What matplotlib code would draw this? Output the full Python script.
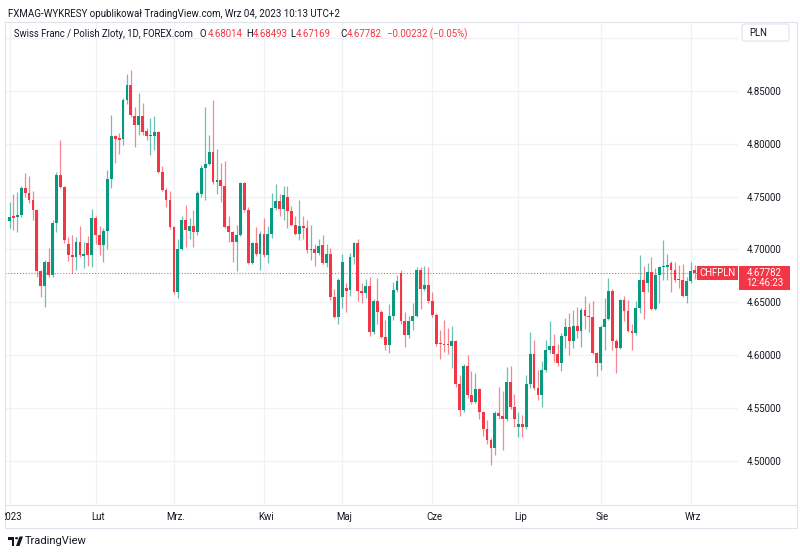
import numpy as np
import pandas as pd
import matplotlib
matplotlib.use("Agg")
import matplotlib.pyplot as plt
from matplotlib.patches import Rectangle, FancyBboxPatch, Circle, Polygon
from matplotlib.transforms import Bbox, TransformedBbox, blended_transform_factory

plt.rcParams['font.family'] = ['Roboto', 'DejaVu Sans']

# daily bars, CHF/PLN, Jan 2 - Sep 4 2023
dates = pd.bdate_range('2023-01-02', '2023-09-04')

opens = [4.727, 4.732, 4.731, 4.733, 4.758, 4.753, 4.747, 4.737, 4.680, 4.665,
         4.688, 4.676, 4.725, 4.770, 4.759, 4.705, 4.695, 4.693, 4.707, 4.694,
         4.706, 4.695, 4.730, 4.714, 4.704, 4.717, 4.767, 4.807, 4.805, 4.804,
         4.841, 4.855, 4.826, 4.818, 4.826, 4.812, 4.807, 4.807, 4.811, 4.773,
         4.756, 4.747, 4.721, 4.660, 4.700, 4.728, 4.717, 4.722, 4.716, 4.752,
         4.777, 4.781, 4.792, 4.764, 4.766, 4.760, 4.722, 4.716, 4.707, 4.714,
         4.763, 4.737, 4.687, 4.706, 4.696, 4.715, 4.695, 4.715, 4.739, 4.746,
         4.738, 4.750, 4.736, 4.723, 4.715, 4.722, 4.720, 4.699, 4.700, 4.697,
         4.704, 4.687, 4.696, 4.655, 4.636, 4.655, 4.664, 4.662, 4.693, 4.706,
         4.661, 4.659, 4.665, 4.622, 4.651, 4.641, 4.617, 4.610, 4.637, 4.662,
         4.678, 4.632, 4.619, 4.632, 4.637, 4.681, 4.663, 4.666, 4.651, 4.638,
         4.612, 4.611, 4.611, 4.609, 4.613, 4.573, 4.548, 4.590, 4.562, 4.556,
         4.568, 4.546, 4.530, 4.520, 4.512, 4.545, 4.543, 4.540, 4.575, 4.551,
         4.532, 4.535, 4.532, 4.573, 4.601, 4.569, 4.562, 4.586, 4.605, 4.609,
         4.601, 4.593, 4.618, 4.627, 4.613, 4.628, 4.623, 4.643, 4.637, 4.636,
         4.602, 4.593, 4.627, 4.634, 4.661, 4.613, 4.607, 4.652, 4.642, 4.623,
         4.621, 4.645, 4.671, 4.668, 4.679, 4.644, 4.676, 4.683, 4.683, 4.687,
         4.681, 4.672, 4.671, 4.656, 4.670, 4.68014]

highs = [4.745, 4.752, 4.754, 4.760, 4.772, 4.769, 4.755, 4.738, 4.681, 4.690,
         4.701, 4.728, 4.773, 4.803, 4.760, 4.712, 4.714, 4.712, 4.722, 4.707,
         4.713, 4.738, 4.732, 4.722, 4.720, 4.775, 4.827, 4.808, 4.810, 4.843,
         4.866, 4.870, 4.835, 4.848, 4.838, 4.815, 4.824, 4.826, 4.812, 4.779,
         4.758, 4.755, 4.722, 4.710, 4.732, 4.742, 4.730, 4.737, 4.755, 4.780,
         4.835, 4.808, 4.841, 4.795, 4.782, 4.784, 4.732, 4.717, 4.723, 4.764,
         4.764, 4.740, 4.707, 4.721, 4.717, 4.730, 4.722, 4.753, 4.762, 4.752,
         4.760, 4.760, 4.741, 4.732, 4.747, 4.732, 4.728, 4.723, 4.705, 4.710,
         4.714, 4.705, 4.701, 4.663, 4.673, 4.696, 4.668, 4.697, 4.707, 4.710,
         4.668, 4.672, 4.674, 4.653, 4.673, 4.643, 4.633, 4.648, 4.669, 4.676,
         4.681, 4.641, 4.637, 4.649, 4.683, 4.683, 4.684, 4.683, 4.660, 4.640,
         4.624, 4.633, 4.626, 4.628, 4.614, 4.581, 4.592, 4.600, 4.585, 4.583,
         4.569, 4.547, 4.539, 4.522, 4.547, 4.570, 4.566, 4.589, 4.590, 4.563,
         4.546, 4.544, 4.581, 4.622, 4.614, 4.586, 4.595, 4.614, 4.632, 4.620,
         4.611, 4.621, 4.635, 4.640, 4.643, 4.646, 4.645, 4.656, 4.649, 4.651,
         4.603, 4.629, 4.654, 4.673, 4.663, 4.615, 4.653, 4.656, 4.652, 4.630,
         4.651, 4.695, 4.684, 4.687, 4.693, 4.682, 4.684, 4.709, 4.696, 4.689,
         4.688, 4.685, 4.686, 4.674, 4.688, 4.68493]

lows = [4.720, 4.718, 4.716, 4.731, 4.750, 4.744, 4.728, 4.674, 4.655, 4.646,
        4.674, 4.674, 4.716, 4.758, 4.706, 4.689, 4.678, 4.681, 4.693, 4.682,
        4.684, 4.683, 4.705, 4.695, 4.688, 4.700, 4.758, 4.782, 4.790, 4.799,
        4.837, 4.825, 4.797, 4.808, 4.808, 4.803, 4.789, 4.794, 4.772, 4.755,
        4.740, 4.719, 4.658, 4.654, 4.699, 4.702, 4.710, 4.702, 4.714, 4.750,
        4.747, 4.780, 4.762, 4.752, 4.745, 4.720, 4.707, 4.688, 4.680, 4.713,
        4.735, 4.686, 4.686, 4.694, 4.681, 4.693, 4.687, 4.711, 4.737, 4.732,
        4.728, 4.720, 4.722, 4.714, 4.709, 4.710, 4.697, 4.690, 4.684, 4.695,
        4.686, 4.683, 4.652, 4.635, 4.630, 4.645, 4.641, 4.656, 4.686, 4.651,
        4.649, 4.654, 4.618, 4.620, 4.630, 4.616, 4.605, 4.602, 4.633, 4.660,
        4.630, 4.608, 4.616, 4.624, 4.636, 4.644, 4.661, 4.649, 4.636, 4.609,
        4.596, 4.603, 4.601, 4.588, 4.570, 4.543, 4.546, 4.560, 4.554, 4.555,
        4.540, 4.524, 4.516, 4.496, 4.506, 4.540, 4.510, 4.538, 4.549, 4.532,
        4.523, 4.523, 4.530, 4.569, 4.567, 4.558, 4.551, 4.584, 4.602, 4.594,
        4.590, 4.585, 4.607, 4.600, 4.607, 4.616, 4.608, 4.625, 4.622, 4.601,
        4.580, 4.586, 4.605, 4.633, 4.605, 4.583, 4.606, 4.632, 4.622, 4.605,
        4.619, 4.640, 4.634, 4.660, 4.643, 4.643, 4.649, 4.671, 4.671, 4.660,
        4.669, 4.664, 4.655, 4.649, 4.668, 4.67169]

closes = [4.731, 4.730, 4.733, 4.758, 4.753, 4.747, 4.737, 4.680, 4.665, 4.688,
          4.676, 4.725, 4.770, 4.759, 4.709, 4.695, 4.693, 4.707, 4.695, 4.696,
          4.695, 4.730, 4.714, 4.704, 4.717, 4.767, 4.807, 4.804, 4.803, 4.841,
          4.855, 4.827, 4.818, 4.826, 4.811, 4.807, 4.808, 4.811, 4.773, 4.756,
          4.747, 4.721, 4.660, 4.700, 4.728, 4.718, 4.722, 4.716, 4.753, 4.777,
          4.781, 4.792, 4.764, 4.766, 4.760, 4.721, 4.716, 4.707, 4.714, 4.763,
          4.737, 4.687, 4.706, 4.696, 4.715, 4.695, 4.715, 4.739, 4.746, 4.738,
          4.751, 4.736, 4.723, 4.715, 4.722, 4.720, 4.699, 4.700, 4.697, 4.703,
          4.687, 4.696, 4.655, 4.636, 4.671, 4.688, 4.661, 4.693, 4.706, 4.661,
          4.659, 4.665, 4.622, 4.651, 4.641, 4.617, 4.610, 4.637, 4.662, 4.670,
          4.632, 4.619, 4.632, 4.637, 4.681, 4.663, 4.666, 4.651, 4.638, 4.611,
          4.611, 4.610, 4.610, 4.613, 4.573, 4.548, 4.590, 4.562, 4.556, 4.568,
          4.546, 4.530, 4.520, 4.512, 4.545, 4.543, 4.540, 4.575, 4.551, 4.540,
          4.535, 4.532, 4.573, 4.601, 4.569, 4.562, 4.586, 4.605, 4.609, 4.601,
          4.593, 4.618, 4.627, 4.613, 4.628, 4.623, 4.643, 4.637, 4.636, 4.602,
          4.593, 4.627, 4.634, 4.661, 4.613, 4.607, 4.652, 4.642, 4.623, 4.621,
          4.645, 4.671, 4.660, 4.679, 4.644, 4.676, 4.683, 4.684, 4.685, 4.681,
          4.671, 4.671, 4.656, 4.670, 4.680, 4.67782]

month_labels = ['2023', 'Lut', 'Mrz.', 'Kwi', 'Maj', 'Cze', 'Lip', 'Sie', 'Wrz']
price_ticks = [4.50, 4.55, 4.60, 4.65, 4.70, 4.75, 4.80, 4.85, 4.90]
last_price = 4.67782

GREEN = '#089981'
RED = '#f23645'
TEXT = '#131722'
GRID = '#eff1f5'
BORDER = '#e0e3eb'

W, H = 800, 553


def fx(x):
    return x / W


def fy(y):
    return 1 - y / H


fig = plt.figure(figsize=(W / 100, H / 100), dpi=100)
fig.patch.set_facecolor('white')

ax = fig.add_axes([fx(5), fy(505), fx(738) - fx(5), fy(22) - fy(505)])
ax.set_xlim(-1.15, 186.1)
ax.set_ylim(4.4585, 4.9149)
for s in ax.spines.values():
    s.set_visible(False)

o = np.array(opens)
h = np.array(highs)
l = np.array(lows)
c = np.array(closes)
x = np.arange(len(c))
colors = np.where(c >= o, GREEN, RED)

# grid at month starts and every 0.05 (top level label sits under the PLN box)
month_idx = [int(np.where(dates.month == m)[0][0]) for m in range(1, 10)]
ax.set_xticks(month_idx)
ax.set_xticklabels([])
ax.set_yticks(price_ticks)
ax.set_yticklabels([f'{p:.5f}' if p < 4.88 else '' for p in price_ticks])
ax.yaxis.tick_right()
ax.tick_params(axis='both', length=0)
ax.tick_params(axis='y', pad=6, labelsize=6.9, labelcolor=TEXT)
ax.grid(True, color=GRID, linewidth=0.9)
ax.set_axisbelow(True)

# candles
ax.vlines(x, l, h, colors=colors, linewidth=0.9, alpha=0.6, zorder=2)
body_h = np.maximum(np.abs(c - o), 0.0009)
ax.bar(x, body_h, bottom=np.minimum(o, c), width=0.72, color=colors,
       linewidth=0, zorder=3)

ax.axhline(last_price, color=RED, linewidth=0.8, linestyle=(0, (1, 1.6)),
           alpha=0.8, zorder=1)

# month labels on the time axis, clipped at the left border
tr = blended_transform_factory(ax.transData, fig.transFigure)
clip = TransformedBbox(Bbox([[fx(5), 0], [1, 1]]), fig.transFigure)
for i, lab in zip(month_idx, month_labels):
    t = fig.text(i + 0.5, fy(517), lab, transform=tr, ha='center', va='center',
                 fontsize=6.9, color=TEXT)
    t.set_clip_box(clip)
    t.set_clip_on(True)

# widget frame
fig.add_artist(Rectangle((fx(5), fy(528)), fx(797) - fx(5), fy(22) - fy(528),
                         transform=fig.transFigure, fill=False,
                         edgecolor=BORDER, linewidth=0.8))
fig.add_artist(plt.Line2D([fx(5), fx(797)], [fy(505), fy(505)],
                          transform=fig.transFigure, color=BORDER, linewidth=0.8))

# header
fig.text(fx(7.5), fy(14), 'FXMAG-WYKRESY opublikował TradingView.com, Wrz 04, 2023 10:13 UTC+2',
         fontsize=7.0, color=TEXT, va='center')
fig.text(fx(14), fy(34), 'Swiss Franc / Polish Zloty, 1D, FOREX.com',
         fontsize=6.85, color=TEXT, va='center')
ohlc = [('O', 199.3, f'{opens[-1]:.5f}', 207.3),
        ('H', 246.7, f'{highs[-1]:.5f}', 253.0),
        ('L', 290.7, f'{lows[-1]:.5f}', 295.5),
        ('C', 340.7, f'{closes[-1]:.5f}', 347.0)]
for key, kx, val, vx in ohlc:
    fig.text(fx(kx), fy(34), key, fontsize=6.9, color=TEXT, va='center')
    fig.text(fx(vx), fy(34), val, fontsize=6.9, color=RED, va='center')
chg = closes[-1] - opens[-1]
fig.text(fx(386.7), fy(34), f'−{abs(chg):.5f} (−{abs(chg) / opens[-1] * 100:.2f}%)',
         fontsize=6.9, color=RED, va='center')

# currency box
fig.add_artist(FancyBboxPatch((fx(742), fy(41)), fx(789) - fx(742), fy(24) - fy(41),
                              boxstyle='round,pad=0,rounding_size=0.004',
                              transform=fig.transFigure, facecolor='white',
                              edgecolor=BORDER, linewidth=0.8))
fig.text(fx(749), fy(33), 'PLN', fontsize=6.9, color=TEXT, va='center')

# last price tag
fig.add_artist(Rectangle((fx(697), fy(280)), fx(738) - fx(697), fy(266) - fy(280),
                         transform=fig.transFigure, facecolor=RED, edgecolor='none'))
fig.text(fx(717.5), fy(273), 'CHFPLN', fontsize=6.9, color='white',
         ha='center', va='center')
fig.add_artist(Rectangle((fx(739), fy(290)), fx(790) - fx(739), fy(266) - fy(290),
                         transform=fig.transFigure, facecolor=RED, edgecolor='none'))
fig.text(fx(764.5), fy(272.5), f'{last_price:.5f}', fontsize=6.9, color='white',
         ha='center', va='center')
fig.text(fx(764.5), fy(283.5), '12:46:23', fontsize=6.9, color='white',
         ha='center', va='center')

# TradingView mark
fig.add_artist(Polygon([(fx(8), fy(536.5)), (fx(14.5), fy(536.5)), (fx(14.5), fy(546)),
                        (fx(11.5), fy(546)), (fx(11.5), fy(539.5)), (fx(8), fy(539.5))],
                       closed=True, transform=fig.transFigure, facecolor=TEXT))
fig.add_artist(Circle((fx(16.6), fy(538.2)), 1.6 / W, transform=fig.transFigure,
                      facecolor=TEXT))
fig.add_artist(Polygon([(fx(19.5), fy(536.5)), (fx(23), fy(536.5)), (fx(19.5), fy(546)),
                        (fx(16), fy(546))],
                       closed=True, transform=fig.transFigure, facecolor=TEXT))
fig.text(fx(25), fy(541.5), 'TradingView', fontsize=8, color=TEXT, va='center')

fig.savefig('out.png', dpi=100, facecolor='white')
